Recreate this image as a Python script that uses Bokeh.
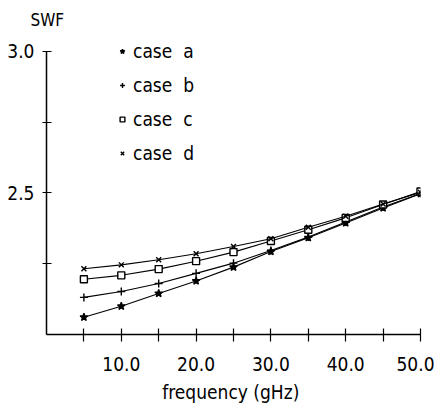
from bokeh.plotting import figure
from bokeh.models import FixedTicker, Legend, LegendItem, Title
from bokeh.embed import file_html
from bokeh.resources import INLINE

freq = [5, 10, 15, 20, 25, 30, 35, 40, 45, 50]
case_a = [2.061, 2.100, 2.145, 2.189, 2.238, 2.293, 2.342, 2.394, 2.447, 2.497]
case_b = [2.131, 2.152, 2.180, 2.216, 2.252, 2.297, 2.344, 2.397, 2.450, 2.498]
case_c = [2.195, 2.209, 2.231, 2.259, 2.291, 2.330, 2.370, 2.412, 2.459, 2.505]
case_d = [2.232, 2.246, 2.264, 2.285, 2.311, 2.338, 2.379, 2.418, 2.461, 2.502]
names = ["case  a", "case  b", "case  c", "case  d"]

x_ticks = [5, 10, 15, 20, 25, 30, 35, 40, 45, 50]
x_tick_labels = {5: "", 10: "10.0", 15: "", 20: "20.0", 25: "", 30: "30.0",
                 35: "", 40: "40.0", 45: "", 50: "50.0"}
y_ticks = [2.25, 2.5, 2.75, 3.0]
y_tick_labels = {2.25: "", 2.5: "2.5", 2.75: "", 3.0: "3.0"}

FONT = "DejaVu Sans Condensed"

p = figure(width=434, height=405, output_backend="svg", toolbar_location=None,
           x_range=(0, 50), y_range=(2.0, 3.0667),
           min_border_left=46, min_border_right=14, min_border_top=32, min_border_bottom=69)
p.outline_line_color = None
p.xgrid.visible = False
p.ygrid.visible = False

for ax in (p.xaxis[0], p.yaxis[0]):
    ax.axis_line_color = "black"
    ax.axis_line_width = 1.5
    ax.major_tick_line_color = "black"
    ax.major_tick_line_width = 1.2
    ax.minor_tick_line_color = None
    ax.major_label_text_font = FONT
    ax.major_label_text_color = "black"
    ax.major_label_text_font_size = "19px"

p.xaxis.ticker = FixedTicker(ticks=x_ticks)
p.xaxis.major_label_overrides = x_tick_labels
p.xaxis.bounds = (0, 50)
p.xaxis.major_tick_in = 6
p.xaxis.major_tick_out = 7
p.xaxis.major_label_standoff = 15
p.xaxis.axis_label = "frequency  (gHz)"
p.xaxis.axis_label_text_font = FONT
p.xaxis.axis_label_text_font_style = "normal"
p.xaxis.axis_label_text_color = "black"
p.xaxis.axis_label_text_font_size = "19px"
p.xaxis.axis_label_standoff = 7

p.yaxis.ticker = FixedTicker(ticks=y_ticks)
p.yaxis.major_label_overrides = y_tick_labels
p.yaxis.bounds = (2.0, 3.0)
p.yaxis.major_tick_in = 5
p.yaxis.major_tick_out = 4
p.yaxis.major_label_standoff = 8

series = [case_a, case_b, case_c, case_d]
markers = ["star", "cross", "square", "x"]
sizes = [8, 8, 7, 7]
renderers = []
for ys, mk, sz in zip(series, markers, sizes):
    p.line(freq, ys, line_color="black", line_width=1.1)
    r = p.scatter(freq, ys, marker=mk, size=sz, line_color="black",
                  fill_color="black" if mk == "star" else "white", line_width=1.4)
    renderers.append(r)

legend = Legend(items=[LegendItem(label=n, renderers=[r]) for n, r in zip(names, renderers)],
                location=(70, 170), padding=0, margin=0, spacing=12,
                glyph_width=12, glyph_height=20, label_standoff=5,
                label_text_font=FONT, label_text_font_size="19px", label_text_color="black",
                label_height=20, border_line_color=None, background_fill_alpha=0)
p.add_layout(legend, "center")

title = Title(text="SWF", align="left", offset=-16, standoff=6,
              text_font=FONT, text_font_size="17px", text_font_style="normal",
              text_color="black")
p.add_layout(title, "above")

open("out.html", "w").write(file_html(p, INLINE))
